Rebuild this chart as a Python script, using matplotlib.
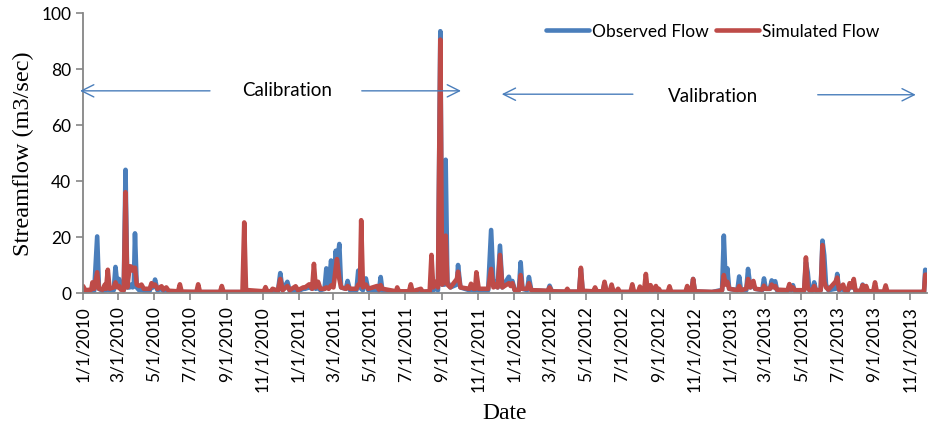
#!/usr/bin/env python3
"""Observed vs simulated streamflow, calibration and validation periods."""

from datetime import timedelta

import matplotlib
matplotlib.use("Agg")
import matplotlib.pyplot as plt
from matplotlib.ticker import FixedLocator, FuncFormatter
import matplotlib.dates as mdates
import pandas as pd


START = pd.Timestamp("2010-01-01")
END_DAY = 1429

# days since 1/1/2010
DAYS_SINCE_START = [
    0, 4, 14, 16, 19, 24, 27, 33, 37, 39, 42, 45, 52, 55, 58, 61, 64, 69, 72, 75,
    79, 81, 84, 86, 88, 91, 95, 99, 103, 113, 116, 119, 122, 126, 133, 136, 141, 145,
    161, 164, 167, 192, 195, 198, 232, 235, 238, 270, 273, 276, 280, 306, 309, 312,
    318, 321, 330, 334, 338, 346, 350, 360, 364,
    373, 376, 383, 388, 391, 394, 398, 402, 409, 412, 416, 420, 424, 428, 430, 434,
    437, 445, 448, 452, 463, 466, 469, 471, 474, 479, 483, 498, 501, 504, 507, 530,
    532, 535, 552, 555, 558, 572, 575, 587, 590, 593, 597, 601, 605, 608, 612, 614,
    617, 622, 633, 635, 639, 654, 657, 661, 664, 666, 670, 686, 691, 695, 698, 702,
    706, 710, 721, 724, 727, 731,
    738, 741, 744, 752, 755, 759, 787, 790, 794, 817, 820, 823, 840, 843, 846, 864,
    867, 870, 880, 883, 886, 892, 895, 898, 903, 906, 909, 927, 930, 933, 940, 943,
    946, 950, 953, 956, 961, 964, 970, 973, 975, 978, 990, 993, 996, 1020, 1023,
    1026, 1030, 1033, 1036, 1065, 1075, 1082, 1085, 1088, 1091, 1094,
    1108, 1111, 1114, 1123, 1126, 1130, 1135, 1138, 1150, 1153, 1156, 1163, 1166,
    1169, 1172, 1175, 1193, 1196, 1199, 1202, 1205, 1221, 1224, 1227, 1230, 1235,
    1238, 1241, 1249, 1252, 1255, 1258, 1262, 1274, 1277, 1280, 1287, 1290, 1295,
    1298, 1302, 1305, 1308, 1317, 1320, 1323, 1326, 1329, 1338, 1341, 1344, 1356,
    1359, 1362, 1420, 1424, 1426, 1429,
]

OBSERVED = [
    1.0, 0.8, 0.6, 1.0, 0.8, 20.2, 1.5, 0.8, 1.0, 1.0, 1.2, 1.0, 1.0, 9.3, 3.0, 5.0, 1.5, 1.0, 44.0, 2.0,
    2.0, 3.0, 2.0, 2.5, 21.3, 2.0, 1.0, 1.0, 0.8, 0.8, 3.0, 2.0, 4.8, 1.0, 1.5, 0.8, 1.0, 0.5,
    0.4, 0.6, 0.3, 0.3, 0.5, 0.3, 0.3, 0.5, 0.3, 0.3, 0.5, 0.3, 0.3, 0.4, 0.8, 0.4,
    0.4, 0.8, 0.5, 7.1, 1.0, 4.0, 0.8, 1.0, 0.7,
    1.5, 1.5, 2.0, 1.5, 3.0, 1.5, 2.0, 1.0, 1.5, 8.8, 2.0, 11.6, 3.0, 15.1, 10.0, 17.5,
    2.0, 1.5, 4.3, 1.0, 1.0, 8.0, 4.0, 1.5, 1.0, 5.2, 1.0, 1.0, 0.8, 5.7, 0.8, 0.4,
    0.5, 0.4, 0.4, 0.6, 0.4, 0.5, 0.4, 0.5, 1.0, 1.0, 1.5, 1.0, 93.5, 3.0, 3.0, 47.6,
    4.0, 2.0, 3.0, 10.0, 2.0, 1.0, 1.5, 1.0, 1.0, 1.5, 1.0, 1.0, 22.5, 3.0, 4.0, 2.0,
    16.9, 2.0, 5.8, 3.0, 4.3, 1.0,
    1.0, 11.0, 1.5, 1.0, 5.7, 1.0, 0.6, 2.6, 0.5, 0.4, 0.6, 0.4, 0.4, 8.5, 0.5, 0.4,
    1.5, 0.4, 0.4, 3.5, 0.5, 0.5, 2.0, 0.5, 0.4, 1.0, 0.3, 0.3, 1.0, 0.3, 0.3, 1.0,
    0.3, 0.5, 1.0, 0.5, 0.6, 0.4, 0.6, 0.3, 0.3, 0.3, 0.3, 0.5, 0.3, 0.3, 0.8,
    0.3, 0.4, 5.0, 0.5, 0.3, 0.8, 1.0, 20.5, 4.0, 8.8, 1.5,
    1.0, 5.9, 1.0, 1.0, 8.6, 2.0, 3.0, 1.5, 1.0, 5.2, 1.5, 1.5, 4.5,
    3.0, 4.2, 1.0, 0.8, 2.5, 1.0, 2.8, 0.8, 0.8, 11.0, 7.4, 1.0, 0.8,
    3.8, 0.8, 1.0, 18.7, 13.5, 3.0, 1.0, 1.5, 6.8, 1.0, 1.5, 0.8, 0.8,
    2.5, 2.0, 3.5, 0.6, 0.6, 3.0, 0.6, 2.0, 0.5, 0.4, 1.0, 0.4, 0.3,
    0.6, 0.3, 0.3, 0.5, 8.3, 8.0,
]

SIMULATED = [
    2.5, 1.0, 1.2, 3.8, 1.5, 7.4, 1.5, 1.2, 3.0, 1.5, 8.3, 1.5, 2.0, 3.8, 2.0, 2.5, 1.2, 1.0, 36.0, 2.0,
    9.5, 9.5, 8.0, 9.0, 9.0, 3.0, 2.5, 3.0, 1.5, 1.5, 3.5, 2.5, 3.0, 1.5, 2.4, 1.2, 2.0, 0.8,
    0.6, 3.1, 0.5, 0.4, 3.1, 0.4, 0.4, 2.5, 0.4, 0.4, 25.2, 1.0, 1.0, 0.6, 2.1, 0.6,
    0.6, 1.5, 0.8, 5.0, 1.0, 2.5, 1.0, 2.4, 1.0,
    2.0, 2.0, 3.1, 1.5, 10.4, 2.0, 4.0, 1.5, 1.5, 2.0, 1.5, 2.7, 2.0, 9.0, 12.1, 5.0,
    2.0, 1.5, 2.5, 1.5, 1.5, 3.0, 3.0, 26.0, 2.0, 3.0, 1.5, 2.5, 1.2, 2.8, 1.5, 0.6,
    2.0, 0.6, 0.6, 3.1, 0.6, 1.5, 0.5, 0.6, 13.6, 2.0, 4.0, 2.0, 90.5, 3.0, 4.0, 20.5,
    3.0, 2.0, 5.0, 7.6, 2.0, 1.5, 3.3, 1.5, 1.5, 7.4, 1.5, 1.5, 8.6, 2.0, 3.0, 2.0,
    13.6, 2.0, 3.5, 2.5, 3.5, 1.0,
    1.0, 6.4, 1.5, 1.5, 3.5, 1.0, 0.8, 2.0, 0.6, 0.5, 1.5, 0.5, 0.5, 9.0, 0.8, 0.6,
    2.0, 0.6, 0.6, 4.0, 0.8, 0.8, 3.0, 0.6, 0.6, 1.5, 0.4, 0.4, 3.1, 0.4, 0.4, 2.3,
    0.5, 0.8, 6.8, 0.8, 2.8, 0.6, 2.5, 0.5, 1.5, 0.4, 0.4, 2.4, 0.4, 0.4, 2.5,
    0.5, 0.6, 5.0, 0.6, 0.4, 0.6, 1.0, 6.4, 3.0, 4.0, 1.5,
    1.0, 2.5, 1.0, 1.5, 5.0, 2.0, 4.3, 1.5, 1.2, 2.6, 1.5, 1.5, 3.0,
    2.0, 2.5, 1.2, 1.0, 3.2, 1.2, 2.0, 1.0, 1.0, 12.7, 2.0, 1.0, 1.0,
    2.5, 1.0, 1.0, 17.1, 4.0, 2.0, 1.2, 4.0, 5.5, 1.2, 3.0, 1.0, 1.0,
    3.5, 2.0, 5.0, 0.8, 0.8, 2.8, 0.8, 2.5, 0.6, 0.6, 3.8, 0.5, 0.5,
    2.7, 0.4, 0.4, 0.5, 6.5, 6.5,
]

OBS_COLOR = "#4A7EBB"
SIM_COLOR = "#BE4B48"
ARROW_COLOR = "#4A7EBB"
AXIS_GREY = "#868686"
SANS = ["Lato", "DejaVu Sans"]
SERIF = ["Liberation Serif", "DejaVu Serif"]


def day(n: float) -> pd.Timestamp:
  return START + timedelta(days=n)


def main() -> None:
  dates = [day(n) for n in DAYS_SINCE_START]

  fig = plt.figure(figsize=(9.29, 4.27), dpi=100)
  ax = fig.add_axes([83 / 929, 1 - 294 / 427, (927 - 83) / 929, (294 - 14) / 427])

  ax.plot(dates, OBSERVED, color=OBS_COLOR, linewidth=3.3, solid_capstyle="round",
          solid_joinstyle="round", label="Observed Flow")
  ax.plot(dates, SIMULATED, color=SIM_COLOR, linewidth=3.3, solid_capstyle="round",
          solid_joinstyle="round", label="Simulated Flow")

  ax.set_xlim(day(0), day(END_DAY))
  ax.set_ylim(0, 100)

  ticks = pd.date_range("2010-01-01", "2013-11-01", freq="2MS")
  ax.xaxis.set_major_locator(FixedLocator(mdates.date2num(ticks)))
  ax.xaxis.set_major_formatter(FuncFormatter(
      lambda v, _: (lambda d: f"{d.month}/{d.day}/{d.year}")(mdates.num2date(v))))
  ax.set_yticks(range(0, 101, 20))

  for side in ["top", "right"]:
    ax.spines[side].set_visible(False)
  for side in ["left", "bottom"]:
    ax.spines[side].set_color(AXIS_GREY)
    ax.spines[side].set_linewidth(1.3)
  ax.tick_params(axis="both", direction="out", length=5, width=1.2, color=AXIS_GREY,
                 labelsize=12.5, labelcolor="black")
  for label in ax.get_xticklabels():
    label.set_rotation(90)
    label.set_family(SANS)
  for label in ax.get_yticklabels():
    label.set_family(SANS)

  ax.set_ylabel("Streamflow (m3/sec)", family=SERIF, fontsize=17.5, labelpad=5)
  ax.set_xlabel("Date", family=SERIF, fontsize=17, labelpad=8)

  arrow = dict(arrowstyle="->", color=ARROW_COLOR, lw=1.0, mutation_scale=22,
               shrinkA=0, shrinkB=0)
  for tail, head, y in [(215, -5, 72.2), (472, 640, 72.2), (931, 709, 71.0), (1244, 1410, 70.8)]:
    ax.annotate("", xy=(day(head), y), xytext=(day(tail), y), arrowprops=arrow,
                annotation_clip=False)
  ax.text(day(345), 72.6, "Calibration", family=SANS, fontsize=13.5, ha="center", va="center")
  ax.text(day(1066), 70.4, "Valibration", family=SANS, fontsize=13.5, ha="center", va="center")

  fig.legend(loc="center left", bbox_to_anchor=(546 / 929, 1 - 32 / 427), ncol=2,
             frameon=False, prop={"family": SANS, "size": 12.5}, handlelength=2.5,
             handletextpad=0.15, columnspacing=0.4, borderpad=0, borderaxespad=0)

  fig.savefig("out.png", dpi=100)
  plt.close(fig)


if __name__ == "__main__":
  main()
